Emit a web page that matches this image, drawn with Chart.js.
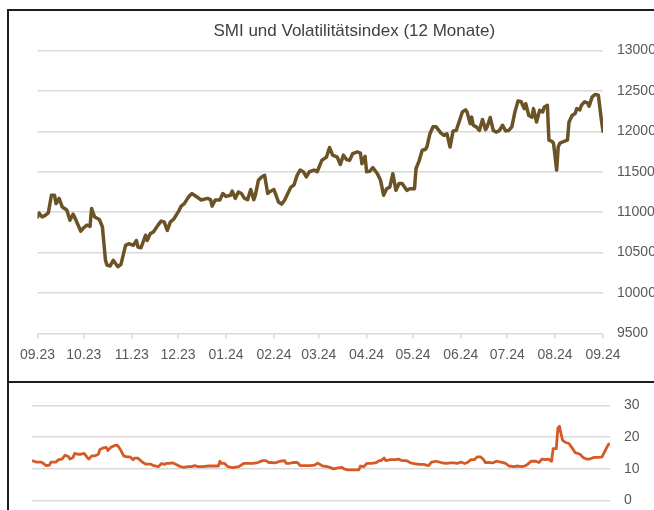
<!DOCTYPE html>
<html lang="de">
<head>
<meta charset="UTF-8">
<title>SMI und Volatilitätsindex (12 Monate)</title>
<script src="https://cdn.jsdelivr.net/npm/chart.js"></script>
<style>
  body { margin: 0; width: 654px; height: 510px; overflow: hidden; background: #fff; position: relative; }
  .line { position: absolute; background: #1e1e1e; }
  .box { position: absolute; }
</style>
</head>
<body>
<div class="line" style="left:7px; top:9px; width:660px; height:2px;"></div>
<div class="line" style="left:7px; top:9px; width:2px; height:510px;"></div>
<div class="line" style="left:7px; top:381px; width:660px; height:2px;"></div>

<div class="box" style="left:9px; top:11px; width:662px; height:370px;">
  <canvas id="smiChart" width="662" height="370"></canvas>
</div>
<div class="box" style="left:9px; top:383px; width:662px; height:140px;">
  <canvas id="vixChart" width="662" height="140"></canvas>
</div>

<script>
// month axis (days counted from 1 Sept 2023)
const monthLabels = ['09.23', '10.23', '11.23', '12.23', '01.24', '02.24', '03.24', '04.24', '05.24', '06.24', '07.24', '08.24', '09.24'];
const monthDays = [0, 30, 61, 91, 122, 153, 182, 213, 243, 274, 304, 335, 366];

// SMI
const smiDays = [0, 1, 3, 5, 7, 9, 11, 12, 14, 16, 18, 19, 21, 23, 24, 28, 30, 32, 34, 35, 37, 40, 42, 44, 45, 47, 49, 52, 54, 57, 59, 62, 64, 65, 67, 70, 71, 73, 75, 78, 80, 82, 84, 86, 88, 91, 93, 95, 98, 100, 103, 106, 110, 112, 113, 115, 118, 120, 122, 125, 126, 128, 130, 132, 134, 136, 138, 140, 141, 143, 145, 147, 149, 150, 153, 154, 156, 158, 160, 162, 164, 166, 168, 170, 172, 174, 176, 179, 181, 184, 187, 189, 191, 194, 196, 198, 200, 202, 204, 207, 209, 210, 212, 213, 215, 217, 220, 222, 224, 226, 228, 230, 232, 234, 236, 239, 241, 244, 245, 247, 249, 251, 252, 254, 256, 258, 261, 263, 265, 267, 269, 271, 275, 277, 278, 280, 281, 282, 284, 286, 288, 290, 291, 293, 295, 297, 299, 301, 303, 305, 307, 309, 311, 313, 315, 316, 318, 320, 321, 323, 325, 327, 328, 330, 331, 333, 334, 336, 337, 338, 340, 343, 344, 346, 348, 349, 351, 352, 354, 356, 357, 359, 361, 363, 365, 366];
const smiValues = [10940, 10990, 10940, 10960, 10990, 11210, 11210, 11105, 11170, 11065, 11040, 11025, 10900, 10975, 10940, 10765, 10810, 10840, 10825, 11045, 10940, 10910, 10820, 10405, 10345, 10335, 10405, 10325, 10355, 10590, 10610, 10590, 10650, 10570, 10560, 10715, 10650, 10735, 10755, 10840, 10890, 10880, 10775, 10880, 10910, 11000, 11075, 11105, 11195, 11230, 11190, 11150, 11170, 11155, 11075, 11150, 11150, 11230, 11195, 11210, 11260, 11170, 11250, 11230, 11170, 11155, 11280, 11155, 11210, 11395, 11435, 11455, 11230, 11250, 11280, 11230, 11125, 11100, 11150, 11230, 11310, 11335, 11455, 11520, 11500, 11435, 11500, 11520, 11500, 11640, 11680, 11800, 11705, 11680, 11590, 11705, 11650, 11640, 11725, 11745, 11730, 11600, 11690, 11500, 11505, 11550, 11475, 11395, 11210, 11290, 11310, 11475, 11270, 11355, 11355, 11270, 11290, 11290, 11540, 11635, 11765, 11775, 11805, 11970, 12055, 12055, 11980, 11950, 11970, 11805, 12005, 12010, 12240, 12265, 12240, 12095, 12175, 12075, 12055, 12010, 12145, 12020, 12055, 12170, 12010, 11990, 12010, 12075, 12005, 12010, 12055, 12240, 12375, 12365, 12280, 12340, 12195, 12175, 12280, 12115, 12260, 12240, 12300, 12320, 11890, 11875, 11850, 11520, 11805, 11850, 11870, 11890, 12115, 12195, 12220, 12280, 12265, 12320, 12365, 12350, 12310, 12425, 12455, 12445, 12135, 12000];

// Volatilitätsindex (VSMI)
const vixDays = [0, 3, 6, 9, 11, 12, 15, 17, 19, 21, 23, 24, 26, 27, 29, 31, 33, 35, 36, 38, 40, 42, 43, 45, 47, 48, 50, 52, 54, 56, 58, 60, 62, 64, 65, 67, 70, 72, 75, 77, 80, 82, 84, 85, 87, 89, 92, 94, 96, 99, 101, 103, 105, 108, 112, 115, 118, 119, 120, 122, 124, 127, 131, 134, 137, 140, 143, 146, 148, 150, 152, 154, 157, 160, 161, 163, 165, 168, 170, 173, 176, 179, 181, 184, 187, 189, 191, 193, 196, 198, 200, 203, 207, 208, 210, 212, 215, 218, 220, 221, 223, 224, 227, 230, 232, 234, 237, 239, 241, 245, 248, 251, 253, 256, 259, 262, 265, 267, 269, 272, 274, 276, 278, 280, 282, 284, 286, 287, 290, 292, 294, 297, 300, 302, 305, 307, 310, 312, 314, 316, 319, 321, 323, 325, 327, 329, 330, 332, 333, 334, 335, 336, 338, 340, 342, 344, 347, 349, 351, 353, 356, 359, 361, 363, 365, 366];
const vixValues = [12.6, 12.1, 12.1, 11.0, 11.2, 12.1, 12.1, 12.9, 13.1, 14.3, 13.9, 13.1, 13.6, 14.9, 14.6, 14.6, 14.9, 13.6, 13.1, 14.1, 14.1, 14.6, 16.1, 16.6, 16.8, 15.8, 16.8, 17.3, 17.5, 16.1, 14.1, 13.8, 13.8, 12.9, 13.4, 13.4, 12.1, 11.5, 11.5, 11.0, 10.7, 11.7, 11.4, 11.7, 11.7, 11.9, 11.2, 10.7, 10.5, 10.7, 10.7, 11.0, 10.7, 10.7, 10.9, 10.9, 10.9, 12.4, 11.7, 11.7, 10.7, 10.4, 10.7, 11.7, 11.7, 11.7, 12.0, 12.6, 12.6, 12.0, 12.0, 11.9, 12.4, 12.6, 11.7, 11.7, 12.0, 12.0, 11.0, 11.0, 11.0, 11.2, 11.8, 10.9, 10.7, 10.4, 10.0, 10.2, 10.5, 9.9, 9.7, 9.7, 9.7, 10.9, 10.7, 11.7, 11.7, 12.0, 12.6, 12.6, 13.4, 12.6, 12.9, 12.9, 13.1, 12.6, 12.6, 12.1, 11.7, 11.4, 11.4, 11.0, 12.1, 12.4, 12.0, 11.7, 11.9, 11.9, 11.7, 12.1, 11.7, 12.1, 12.9, 12.9, 13.8, 13.8, 12.9, 12.0, 12.0, 11.9, 12.4, 12.1, 11.7, 10.9, 10.7, 10.9, 10.7, 10.9, 11.5, 12.4, 12.4, 12.0, 13.1, 12.9, 13.1, 12.4, 16.4, 16.4, 22.9, 23.4, 21.0, 19.0, 18.3, 18.0, 16.6, 15.1, 14.6, 13.6, 13.1, 13.1, 13.6, 13.6, 13.8, 15.8, 17.7, 18.0];

const tickColor = '#595959';
const gridColor = '#d9d9d9';
const fontFamily = '"Liberation Sans", Arial, sans-serif';

function toPoints(xs, ys) {
    return xs.map((x, i) => ({ x: x, y: ys[i] }));
}

new Chart(document.getElementById('smiChart'), {
    type: 'line',
    data: {
        datasets: [{
            label: 'SMI',
            data: toPoints(smiDays, smiValues),
            borderColor: '#6b5326',
            borderWidth: 3.5,
            pointRadius: 0,
            tension: 0,
            borderJoinStyle: 'round',
            borderCapStyle: 'round'
        }]
    },
    options: {
        responsive: false,
        animation: false,
        layout: { padding: { left: 28.5, top: 0, right: 0, bottom: 0 } },
        plugins: {
            legend: { display: false },
            tooltip: { enabled: false },
            title: {
                display: true,
                text: 'SMI und Volatilitätsindex (12 Monate)',
                color: '#404040',
                font: { family: fontFamily, size: 17, weight: 'normal' },
                padding: { top: 10, bottom: 9 }
            }
        },
        scales: {
            x: {
                type: 'linear',
                min: 0,
                max: 366,
                afterBuildTicks: (scale) => { scale.ticks = monthDays.map(v => ({ value: v })); },
                afterFit: (scale) => { scale.height = 47.5; },
                ticks: {
                    autoSkip: false,
                    maxRotation: 0,
                    color: tickColor,
                    padding: 8,
                    font: { family: fontFamily, size: 14 },
                    callback: (v) => monthLabels[monthDays.indexOf(v)]
                },
                grid: { drawOnChartArea: false, color: gridColor, tickLength: 5, lineWidth: 1.5 },
                border: { display: false }
            },
            y: {
                position: 'right',
                min: 9500,
                max: 13000,
                afterFit: (scale) => { scale.width = 68; },
                ticks: {
                    stepSize: 500,
                    color: tickColor,
                    padding: 14,
                    font: { family: fontFamily, size: 14 },
                    callback: (v) => String(v)
                },
                grid: { color: gridColor, lineWidth: 1.5, drawTicks: false },
                border: { display: false }
            }
        }
    }
});

new Chart(document.getElementById('vixChart'), {
    type: 'line',
    data: {
        datasets: [{
            label: 'Volatilitätsindex',
            data: toPoints(vixDays, vixValues),
            borderColor: '#d55a26',
            borderWidth: 2.8,
            pointRadius: 0,
            tension: 0,
            borderJoinStyle: 'round'
        }]
    },
    options: {
        responsive: false,
        animation: false,
        layout: { padding: { left: 23, top: 18, right: 0, bottom: 21 } },
        plugins: {
            legend: { display: false },
            tooltip: { enabled: false }
        },
        scales: {
            x: { type: 'linear', min: 0, max: 366, display: false },
            y: {
                position: 'right',
                min: 0,
                max: 30,
                afterFit: (scale) => { scale.width = 61; },
                ticks: {
                    stepSize: 10,
                    color: tickColor,
                    padding: 14,
                    font: { family: fontFamily, size: 14 },
                    callback: (v) => String(v)
                },
                grid: { color: gridColor, lineWidth: 1.5, drawTicks: false },
                border: { display: false }
            }
        }
    }
});
</script>
</body>
</html>
